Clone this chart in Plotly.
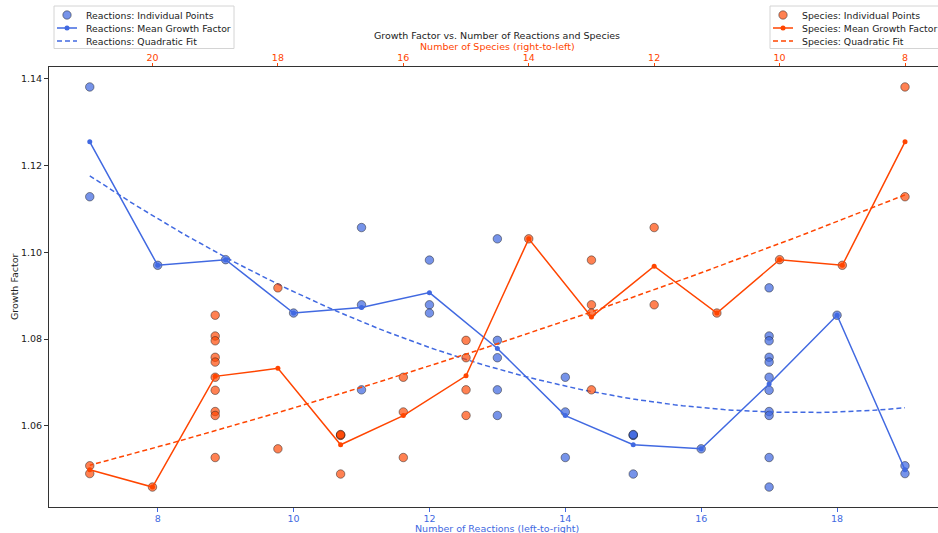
import numpy as np
import pandas as pd
import plotly.graph_objects as go

# One record per run: number of reactions, number of species, measured growth factor
reactions = [7, 7, 8, 9, 10,
             11, 11, 11, 12, 12, 12,
             13, 13, 13, 13, 13,
             14, 14, 14, 15, 15, 15, 15, 16,
             17, 17, 17, 17, 17, 17, 17, 17, 17, 17, 17,
             18, 19, 19]
species = [8, 8, 9, 10, 11,
           12, 12, 13, 13, 13, 13,
           14, 15, 15, 15, 15,
           16, 16, 16, 17, 17, 17, 17, 18,
           18, 19, 19, 19, 19, 19, 19, 19, 19, 19, 20,
           19, 21, 21]
growth = [1.1381, 1.1128, 1.0970, 1.0983, 1.0860,
          1.1057, 1.0879, 1.0683, 1.0982, 1.0879, 1.0860,
          1.1031, 1.0797, 1.0757, 1.0683, 1.0624,
          1.0712, 1.0632, 1.0527, 1.0579, 1.0578, 1.0580, 1.0489, 1.0547,
          1.0918, 1.0807, 1.0796, 1.0758, 1.0747, 1.0712, 1.0682, 1.0633, 1.0624, 1.0527, 1.0459,
          1.0855, 1.0508, 1.0490]

reaction_ticks = [8, 10, 12, 14, 16, 18]
species_ticks = [8, 10, 12, 14, 16, 18, 20]

BLUE = "#4169E1"
ORANGE = "#FF4500"
BLUE_PT = "rgba(65,105,225,0.72)"
ORANGE_PT = "rgba(255,69,0,0.68)"
EDGE = "rgba(30,30,30,0.6)"
FONT = "DejaVu Sans"
FS = 9.5
LEG_FS = 9.3

df = pd.DataFrame({"reactions": reactions, "species": species, "growth": growth})
r_mean = df.groupby("reactions")["growth"].mean()
s_mean = df.groupby("species")["growth"].mean()


def quad_fit(series):
    x = series.index.to_numpy(dtype=float)
    y = series.to_numpy()
    coef = np.polyfit(x, y, 2)
    xs = np.linspace(x.min(), x.max(), 100)
    return xs, np.polyval(coef, xs)


r_fx, r_fy = quad_fit(r_mean)
s_fx, s_fy = quad_fit(s_mean)

fig = go.Figure()

# reactions (bottom axis)
fig.add_trace(go.Scatter(
    x=df["reactions"], y=df["growth"], mode="markers", xaxis="x", yaxis="y",
    name="Reactions: Individual Points",
    marker=dict(size=8.5, color=BLUE_PT, line=dict(color=EDGE, width=0.8))))
fig.add_trace(go.Scatter(
    x=r_mean.index, y=r_mean.values, mode="lines+markers", xaxis="x", yaxis="y",
    name="Reactions: Mean Growth Factor",
    line=dict(color=BLUE, width=1.5), marker=dict(size=5, color=BLUE)))
fig.add_trace(go.Scatter(
    x=r_fx, y=r_fy, mode="lines", xaxis="x", yaxis="y",
    name="Reactions: Quadratic Fit",
    line=dict(color=BLUE, width=1.5, dash="5px,3px")))

# species (top axis, reversed)
fig.add_trace(go.Scatter(
    x=df["species"], y=df["growth"], mode="markers", xaxis="x2", yaxis="y",
    name="Species: Individual Points",
    marker=dict(size=8.5, color=ORANGE_PT, line=dict(color=EDGE, width=0.8))))
fig.add_trace(go.Scatter(
    x=s_mean.index, y=s_mean.values, mode="lines+markers", xaxis="x2", yaxis="y",
    name="Species: Mean Growth Factor",
    line=dict(color=ORANGE, width=1.5), marker=dict(size=5, color=ORANGE)))
fig.add_trace(go.Scatter(
    x=s_fx, y=s_fy, mode="lines", xaxis="x2", yaxis="y",
    name="Species: Quadratic Fit",
    line=dict(color=ORANGE, width=1.5, dash="5px,3px")))

W, H = 938, 533
L, T, B = 49, 67, 26
PW, PH = W - L, H - T - B


def px(x):
    return (x - L) / PW


def py(y):
    return (H - B - y) / PH


fig.update_layout(
    width=W, height=H,
    margin=dict(l=L, r=0, t=T, b=B, autoexpand=False),
    plot_bgcolor="white", paper_bgcolor="white",
    showlegend=False,
    font=dict(family=FONT, size=FS, color="#222"),
    title=dict(text="Growth Factor vs. Number of Reactions and Species",
               x=497 / W, xanchor="center", y=1 - 36 / H, yanchor="middle",
               font=dict(family=FONT, size=FS, color="#222")),
    xaxis=dict(range=[6.4, 19.486], tickvals=reaction_ticks, ticks="outside",
               ticklen=3.5, tickcolor=BLUE, tickfont=dict(color=BLUE, size=FS),
               ticklabelstandoff=-1,
               showline=True, linecolor="#333", linewidth=1, mirror=False,
               showgrid=False, zeroline=False, automargin=False),
    xaxis2=dict(range=[21.65, 7.474], tickvals=species_ticks, ticks="outside",
                ticklen=3.5, tickcolor=ORANGE, tickfont=dict(color=ORANGE, size=FS),
                overlaying="x", side="top", anchor="y", ticklabelstandoff=-2,
                showline=True, linecolor="#333", linewidth=1,
                showgrid=False, zeroline=False, automargin=False),
    yaxis=dict(range=[1.0413, 1.1427], tickvals=[1.06, 1.08, 1.10, 1.12, 1.14],
               tickformat=".2f", ticks="outside", ticklen=4, tickcolor="#333",
               tickfont=dict(color="#222", size=FS),
               showline=True, linecolor="#333", linewidth=1,
               showgrid=False, zeroline=False, automargin=False),
)

# axis titles
fig.add_annotation(text="Number of Reactions (left-to-right)", xref="paper", yref="paper",
                   x=px(497), y=py(528.5), yanchor="middle", showarrow=False,
                   font=dict(family=FONT, size=FS, color=BLUE))
fig.add_annotation(text="Number of Species (right-to-left)", xref="paper", yref="paper",
                   x=px(497), y=py(46.5), yanchor="middle", showarrow=False,
                   font=dict(family=FONT, size=FS, color=ORANGE))
fig.add_annotation(text="Growth Factor", xref="paper", yref="paper",
                   x=px(14), y=0.5, xanchor="center", yanchor="middle",
                   textangle=-90, showarrow=False,
                   font=dict(family=FONT, size=FS, color="#222"))


# legend boxes drawn as shapes and text
def legend_box(x0, x1, y0, y1, entries):
    fig.add_shape(type="rect", xref="paper", yref="paper",
                  x0=px(x0), x1=px(x1), y0=py(y0), y1=py(y1),
                  fillcolor="rgba(255,255,255,0.85)",
                  line=dict(color="#d4d4d4", width=1), layer="above")
    rows = [15, 28, 41]
    sx0 = x0 + 3
    sx1 = sx0 + 20
    cx = (sx0 + sx1) / 2
    for (label, kind, color), ry in zip(entries, rows):
        if kind == "points":
            r = 4.2
            fig.add_shape(type="circle", xref="paper", yref="paper",
                          x0=px(cx - r), x1=px(cx + r), y0=py(ry - r), y1=py(ry + r),
                          fillcolor=color, line=dict(color=EDGE, width=0.8),
                          layer="above")
        else:
            fig.add_shape(type="line", xref="paper", yref="paper",
                          x0=px(sx0), x1=px(sx1), y0=py(ry), y1=py(ry),
                          line=dict(color=color, width=1.5,
                                    dash="5px,3px" if kind == "fit" else "solid"),
                          layer="above")
            if kind == "mean":
                r = 2.5
                fig.add_shape(type="circle", xref="paper", yref="paper",
                              x0=px(cx - r), x1=px(cx + r), y0=py(ry - r), y1=py(ry + r),
                              fillcolor=color, line=dict(color=color, width=0),
                              layer="above")
        fig.add_annotation(text=label, xref="paper", yref="paper",
                           x=px(sx1 + 7), y=py(ry), xanchor="left", yanchor="middle",
                           showarrow=False,
                           font=dict(family=FONT, size=LEG_FS, color="#222"))


legend_box(54, 234, 6, 48.5, [
    ("Reactions: Individual Points", "points", BLUE_PT),
    ("Reactions: Mean Growth Factor", "mean", BLUE),
    ("Reactions: Quadratic Fit", "fit", BLUE),
])
legend_box(770, 960, 6, 48.5, [
    ("Species: Individual Points", "points", ORANGE_PT),
    ("Species: Mean Growth Factor", "mean", ORANGE),
    ("Species: Quadratic Fit", "fit", ORANGE),
])

fig.write_html("out.html")
